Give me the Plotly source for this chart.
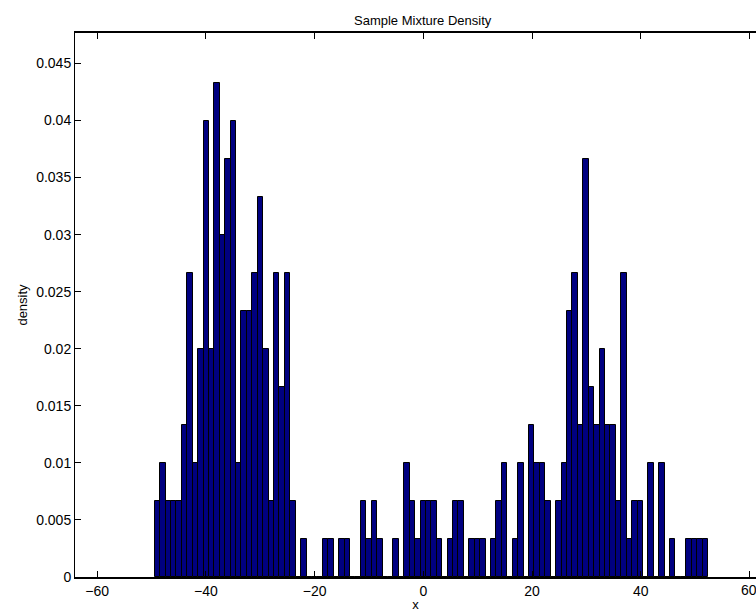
import plotly.graph_objects as go

# Histogram (102 bins, width ~0.998) : density values
bin_start = -48.92          # centre of first bin
bin_width = 0.998
density = [
    0.00667, 0.01, 0.00667, 0.00667, 0.00667, 0.01333, 0.02667, 0.01, 0.02, 0.04,
    0.02, 0.04333, 0.03, 0.03667, 0.04, 0.01, 0.02333, 0.02333, 0.02667, 0.03333,
    0.02, 0.00667, 0.02667, 0.01667, 0.02667, 0.00667, 0.0, 0.00333, 0.0, 0.0,
    0.0, 0.00333, 0.00333, 0.0, 0.00333, 0.00333, 0.0, 0.0, 0.00667, 0.00333,
    0.00667, 0.00333, 0.0, 0.0, 0.00333, 0.0, 0.01, 0.00667, 0.00333, 0.00667,
    0.00667, 0.00667, 0.00333, 0.0, 0.00333, 0.00667, 0.00667, 0.0, 0.00333, 0.00333,
    0.00333, 0.0, 0.00333, 0.00667, 0.01, 0.0, 0.00333, 0.01, 0.0, 0.01333,
    0.01, 0.01, 0.00667, 0.0, 0.00667, 0.01, 0.02333, 0.02667, 0.01333, 0.03667,
    0.01667, 0.01333, 0.02, 0.01333, 0.01333, 0.00667, 0.02667, 0.00333, 0.00667, 0.00667,
    0.0, 0.01, 0.0, 0.01, 0.0, 0.00333, 0.0, 0.0, 0.00333, 0.00333,
    0.00333, 0.00333,
]

x_ticks = [-60, -40, -20, 0, 20, 40, 60]
x_tick_text = ["\u221260", "\u221240", "\u221220", "0", "20", "40", "60"]
y_ticks = [0, 0.005, 0.01, 0.015, 0.02, 0.025, 0.03, 0.035, 0.04, 0.045]
y_tick_text = ["0", "0.005", "0.01", "0.015", "0.02", "0.025", "0.03", "0.035", "0.04", "0.045"]

x_range = [-64.08, 61.2]
y_range = [0, 0.04767]

FONT = "Liberation Sans, Arial, Helvetica, sans-serif"

fig = go.Figure()
fig.add_trace(go.Bar(
    x0=bin_start, dx=bin_width, y=density, width=bin_width,
    marker=dict(color="#000080", line=dict(color="black", width=1)),
    showlegend=False,
))

title_x = (0 - x_range[0]) / (x_range[1] - x_range[0])

fig.update_layout(
    width=756, height=614,
    margin=dict(l=75, r=0, t=33, b=37),
    paper_bgcolor="white", plot_bgcolor="white",
    font=dict(family=FONT, size=14, color="black"),
    bargap=0,
    annotations=[
        dict(text="Sample Mixture Density", xref="paper", yref="paper",
             x=title_x, y=1, yshift=3, xanchor="center", yanchor="bottom",
             showarrow=False, font=dict(size=13)),
        # last tick label, which sits on the cropped right edge
        dict(text=x_tick_text[-1], xref="x", yref="paper",
             x=x_ticks[-1], y=0, yshift=-3, xanchor="center", yanchor="top",
             showarrow=False, font=dict(size=14)),
    ],
)
fig.update_xaxes(
    range=x_range, tickvals=x_ticks, ticktext=x_tick_text,
    ticks="inside", ticklen=6, tickcolor="black", tickwidth=1,
    showline=True, linecolor="black", linewidth=1.5, mirror="ticks",
    showgrid=False, zeroline=False,
    title=dict(text="x", font=dict(size=13), standoff=2),
)
fig.update_yaxes(
    range=y_range, tickvals=y_ticks, ticktext=y_tick_text,
    ticks="inside", ticklen=6, tickcolor="black", tickwidth=1,
    showline=True, linecolor="black", linewidth=1,
    showgrid=False, zeroline=False,
    title=dict(text="density", font=dict(size=13), standoff=5),
)

fig.write_html("out.html")
